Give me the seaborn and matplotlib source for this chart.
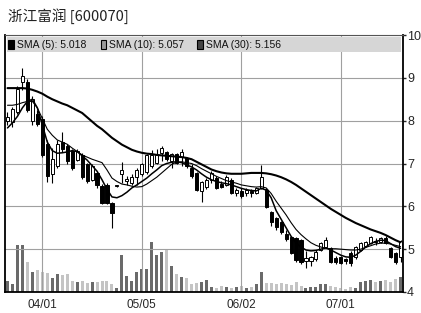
import numpy as np
import pandas as pd
import matplotlib
matplotlib.use('Agg')
import matplotlib.pyplot as plt
from matplotlib.patches import Rectangle
import seaborn as sns

sns.set_style('white')
plt.rcParams['font.family'] = ['Liberation Sans Narrow', 'Liberation Sans', 'DejaVu Sans']

title = '浙江富润 [600070]'
legend_labels = ['SMA (5): 5.018', 'SMA (10): 5.057', 'SMA (30): 5.156']
tick_idx = [7, 27, 47, 67]
tick_labels = ['04/01', '05/05', '06/02', '07/01']

# daily candles
opens = [8.00, 7.98, 8.20, 8.90, 8.90, 8.00, 8.15, 8.05, 7.45, 6.75,
         6.95, 7.50, 7.42, 7.30, 7.08, 7.20, 6.98, 6.62, 6.78, 6.48,
         6.50, 6.07, 6.47, 6.75, 6.60, 6.55, 6.68, 6.75, 6.80, 6.95,
         7.02, 7.25, 7.27, 7.05, 7.22, 7.15, 7.12, 6.90, 6.78, 6.35,
         6.45, 6.62, 6.66, 6.53, 6.50, 6.61, 6.32, 6.36, 6.32, 6.36,
         6.31, 6.43, 6.38, 5.86, 5.72, 5.63, 5.35, 5.28, 5.26, 5.21,
         4.72, 4.72, 4.76, 4.98, 5.06, 5.02, 4.80, 4.81, 4.76, 4.92,
         4.81, 4.98, 5.08, 5.14, 5.20, 5.17, 5.26, 5.02, 4.90, 4.82]
highs = [8.20, 8.32, 8.80, 9.23, 8.98, 8.58, 8.25, 8.10, 7.55, 7.36,
         7.55, 7.73, 7.45, 7.35, 7.35, 7.25, 7.02, 6.98, 6.80, 6.52,
         6.55, 6.10, 6.50, 7.03, 6.70, 6.75, 6.90, 7.02, 7.22, 7.31,
         7.33, 7.42, 7.30, 7.25, 7.25, 7.33, 7.16, 7.00, 6.80, 6.60,
         6.65, 6.82, 6.70, 6.60, 6.72, 6.65, 6.42, 6.42, 6.42, 6.40,
         6.45, 6.96, 6.42, 5.90, 5.75, 5.66, 5.45, 5.30, 5.28, 5.24,
         4.95, 4.85, 4.98, 5.16, 5.28, 5.05, 4.83, 4.84, 4.80, 4.95,
         5.08, 5.16, 5.20, 5.30, 5.26, 5.28, 5.30, 5.05, 4.93, 5.22]
lows = [7.90, 7.85, 8.15, 8.72, 8.20, 7.90, 7.88, 7.15, 6.57, 6.54,
        6.90, 7.27, 7.00, 6.85, 7.05, 6.63, 6.55, 6.58, 6.43, 6.05,
        6.05, 5.49, 6.44, 6.54, 6.50, 6.50, 6.50, 6.70, 6.75, 6.90,
        7.00, 7.05, 7.05, 6.90, 6.98, 6.95, 6.90, 6.65, 6.35, 6.10,
        6.40, 6.55, 6.40, 6.42, 6.47, 6.28, 6.25, 6.20, 6.24, 6.22,
        6.28, 6.40, 5.96, 5.55, 5.45, 5.35, 5.20, 4.88, 4.70, 4.65,
        4.56, 4.60, 4.72, 4.95, 5.02, 4.68, 4.66, 4.65, 4.66, 4.60,
        4.78, 4.96, 5.05, 5.12, 5.10, 5.14, 5.12, 4.79, 4.65, 4.70]
closes = [8.08, 8.28, 8.75, 9.05, 8.25, 8.50, 7.92, 7.20, 6.70, 7.10,
          7.45, 7.35, 7.05, 6.90, 7.30, 6.68, 6.60, 6.95, 6.50, 6.08,
          6.08, 5.85, 6.47, 6.85, 6.63, 6.68, 6.85, 7.00, 7.20, 7.20,
          7.20, 7.36, 7.10, 7.22, 7.02, 7.27, 6.93, 6.70, 6.38, 6.57,
          6.61, 6.78, 6.43, 6.46, 6.68, 6.30, 6.37, 6.23, 6.37, 6.30,
          6.43, 6.68, 5.98, 5.63, 5.51, 5.40, 5.23, 4.91, 4.74, 4.70,
          4.80, 4.82, 4.93, 5.14, 5.21, 4.70, 4.70, 4.67, 4.72, 4.67,
          5.05, 5.14, 5.17, 5.28, 5.16, 5.26, 5.14, 4.81, 4.70, 5.20]
volume = [11, 8, 47, 47, 30, 20, 22, 20, 19, 14,
          18, 17, 18, 11, 10, 11, 9, 10, 10, 11,
          11, 8, 4, 37, 16, 11, 20, 23, 23, 50,
          37, 40, 43, 26, 18, 15, 14, 8, 9, 10,
          12, 5, 4, 6, 5, 4, 5, 6, 4, 5,
          8, 20, 9, 9, 8, 9, 8, 7, 10, 6,
          4, 5, 5, 8, 8, 6, 5, 4, 3, 5,
          4, 10, 11, 12, 10, 11, 12, 10, 13, 15]

# moving averages as drawn (they include days before the window)
sma5 = [7.83, 7.95, 8.10, 8.30, 8.45, 8.50, 8.30, 7.90, 7.50, 7.30,
        7.24, 7.25, 7.27, 7.30, 7.28, 7.18, 7.08, 6.95, 6.82, 6.62,
        6.40, 6.22, 6.20, 6.25, 6.33, 6.43, 6.50, 6.58, 6.66, 6.76,
        6.85, 6.95, 7.00, 7.03, 7.04, 7.02, 6.97, 6.92, 6.85, 6.76,
        6.68, 6.62, 6.58, 6.55, 6.53, 6.50, 6.46, 6.42, 6.39, 6.37,
        6.36, 6.42, 6.38, 6.20, 5.90, 5.70, 5.50, 5.30, 5.15, 5.05,
        4.98, 4.96, 4.97, 5.00, 5.03, 4.98, 4.92, 4.86, 4.82, 4.81,
        4.86, 4.95, 5.05, 5.13, 5.18, 5.21, 5.20, 5.13, 5.06, 5.02]
sma10 = [8.36, 8.36, 8.38, 8.42, 8.45, 8.45, 8.30, 8.05, 7.80, 7.66,
         7.55, 7.50, 7.45, 7.36, 7.28, 7.20, 7.15, 7.10, 7.06, 7.02,
         6.85, 6.66, 6.58, 6.52, 6.50, 6.47, 6.45, 6.46, 6.52, 6.60,
         6.68, 6.78, 6.88, 6.98, 7.03, 7.04, 7.02, 7.00, 6.95, 6.88,
         6.82, 6.76, 6.70, 6.65, 6.60, 6.57, 6.54, 6.50, 6.48, 6.46,
         6.45, 6.46, 6.43, 6.30, 6.12, 5.96, 5.80, 5.62, 5.46, 5.34,
         5.24, 5.15, 5.09, 5.05, 5.02, 5.01, 5.01, 5.00, 4.99, 4.98,
         4.98, 5.00, 5.04, 5.08, 5.12, 5.14, 5.14, 5.12, 5.09, 5.06]
sma30 = [8.76, 8.76, 8.76, 8.76, 8.75, 8.72, 8.68, 8.63, 8.56, 8.50,
         8.45, 8.40, 8.36, 8.30, 8.24, 8.18, 8.08, 7.98, 7.88, 7.80,
         7.70, 7.60, 7.52, 7.44, 7.38, 7.32, 7.28, 7.25, 7.23, 7.22,
         7.20, 7.19, 7.18, 7.17, 7.16, 7.15, 7.13, 7.10, 7.04, 6.98,
         6.92, 6.86, 6.82, 6.79, 6.77, 6.76, 6.76, 6.76, 6.77, 6.78,
         6.78, 6.78, 6.77, 6.75, 6.72, 6.68, 6.63, 6.57, 6.50, 6.42,
         6.34, 6.26, 6.18, 6.10, 6.02, 5.94, 5.87, 5.80, 5.73, 5.67,
         5.61, 5.56, 5.51, 5.46, 5.42, 5.38, 5.33, 5.27, 5.21, 5.16]

df = pd.DataFrame({'open': opens, 'high': highs, 'low': lows, 'close': closes,
                   'volume': volume, 'sma5': sma5, 'sma10': sma10, 'sma30': sma30})
df['day'] = np.arange(len(df))
up = df['close'] >= df['open']

fig = plt.figure(figsize=(4.21, 3.13), dpi=100)
ax = fig.add_axes([5/421, 21/313, 398/421, 257/313])
axv = ax.twinx()

# volume underneath
axv.bar(df['day'], df['volume'], width=0.6,
        color=np.where(up, '#6a6a6a', '#c4c4c4'), edgecolor='none')
axv.set_ylim(0, 257)
axv.set_yticks([])
for s in axv.spines.values():
    s.set_visible(False)
ax.set_zorder(axv.get_zorder() + 1)
ax.patch.set_visible(False)

# candles
ax.vlines(df['day'], df['low'], df['high'], color='black', lw=0.8, zorder=3)
body_lo = np.minimum(df['open'], df['close'])
body_h = np.maximum(np.abs(df['close'] - df['open']), 0.02)
ax.bar(df['day'], body_h, bottom=body_lo, width=0.62,
       color=np.where(up, 'white', 'black'), edgecolor='black', lw=0.7, zorder=4)

sns.lineplot(data=df, x='day', y='sma30', ax=ax, color='black', lw=1.5, zorder=5)
sns.lineplot(data=df, x='day', y='sma10', ax=ax, color='black', lw=0.8, zorder=5)
sns.lineplot(data=df, x='day', y='sma5', ax=ax, color='black', lw=1.1, zorder=5)

ax.set_xlim(-0.5, len(df) - 0.5)
ax.set_ylim(4, 10)
ax.set_xlabel('')
ax.set_ylabel('')
ax.yaxis.tick_right()
ax.set_yticks(range(4, 11))
ax.set_xticks(tick_idx)
ax.set_xticklabels(tick_labels)
ax.tick_params(axis='y', labelsize=9, length=2, width=1, pad=1, direction='out')
ax.tick_params(axis='x', labelsize=8.5, length=3, width=1, pad=2, direction='out')
ax.grid(True, color='#a0a0a0', lw=0.8)
for side in ['left', 'bottom', 'right']:
    ax.spines[side].set_color('black')
    ax.spines[side].set_linewidth(1.3)
ax.spines['top'].set_color('#555555')
ax.spines['top'].set_linewidth(0.8)

# legend band
ax.add_patch(Rectangle((0.005, 0.934), 0.99, 0.058, transform=ax.transAxes,
                       facecolor='#d6d6d6', edgecolor='none', zorder=6))
sq_colors = ['black', '#9a9a9a', '#444444']
sq_x = [0.0075, 0.24, 0.4825]
for lbl, cx, sc in zip(legend_labels, sq_x, sq_colors):
    ax.add_patch(Rectangle((cx, 0.946), 0.015, 0.035, transform=ax.transAxes,
                           facecolor=sc, edgecolor='black', lw=0.8, zorder=7))
    ax.text(cx + 0.0225, 0.963, lbl, transform=ax.transAxes, fontsize=7.5,
            va='center', ha='left', color='#111111', zorder=8)

fig.text(8/421, 1 - 16/313, title, fontsize=10.5, va='center', ha='left', color='#222222',
         family=['Noto Sans CJK SC', 'DejaVu Sans'])

fig.savefig('out.png', dpi=100)
